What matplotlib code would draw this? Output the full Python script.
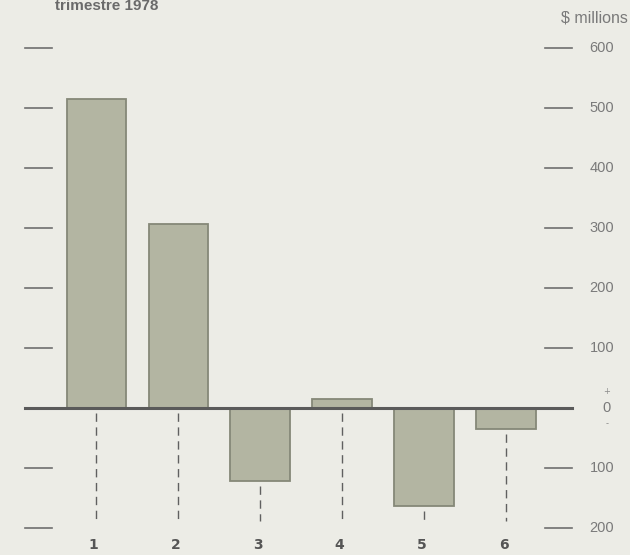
import matplotlib
matplotlib.use('Agg')
import matplotlib.pyplot as plt

# data, $ millions
categories = ['1', '2', '3', '4', '5', '6']
values = [515, 307, -122, 15, -163, -35]
tick_values = [600, 500, 400, 300, 200, 100, 0, -100, -200]
tick_labels = ['600', '500', '400', '300', '200', '100', '0', '100', '200']

bg = '#ecece6'
bar_fill = '#b3b5a2'
bar_edge = '#858878'
ink = '#6e6e6e'

fig = plt.figure(figsize=(6.3, 5.55), dpi=100, facecolor=bg)
ax = fig.add_axes([0, 0, 1, 1], facecolor=bg)
ax.set_xlim(-0.171, 7.512)
ax.set_ylim(-245, 680)
ax.axis('off')

x = list(range(1, len(values) + 1))
ax.bar(x, values, width=0.72, color=bar_fill, edgecolor=bar_edge,
       linewidth=1.3, zorder=2)

# dashed drop lines under each bar
for xi, v in zip(x, values):
    top = min(v, 0)
    ax.plot([xi, xi], [top - 8, -188], color='#606060', lw=1.0,
            linestyle=(0, (6, 4)), zorder=1)
    ax.text(xi - 0.03, -228, categories[xi - 1], ha='center', va='center',
            fontsize=10, fontweight='bold', color='#555555')

# zero line
ax.plot([0.134, 6.805], [0, 0], color='#5a5a5a', lw=2.2, zorder=3)

# tick marks on both sides, labels on the right
for tv, tl in zip(tick_values, tick_labels):
    if tv == 0:
        ax.text(7.23, tv, tl, ha='center', va='center', fontsize=10.5,
                color='#7a7a7a', family='Liberation Sans')
        continue
    ax.plot([0.134, 0.463], [tv, tv], color=ink, lw=1.2)
    ax.plot([6.476, 6.805], [tv, tv], color=ink, lw=1.2)
    ax.text(7.02, tv, tl, ha='left', va='center', fontsize=10.5,
            color='#7a7a7a', family='Liberation Sans')

ax.text(7.23, 28, '+', ha='center', va='center', fontsize=6, color='#8a8a8a')
ax.text(7.23, -26, '-', ha='center', va='center', fontsize=6, color='#8a8a8a')

ax.text(7.48, 650, '$ millions', ha='right', va='center', fontsize=11.5,
        color='#7a7a7a', family='Liberation Sans')
ax.text(0.5, 670, 'trimestre 1978', ha='left', va='center', fontsize=11,
        fontweight='bold', color='#6a6a6a', family='Liberation Sans')

fig.savefig('out.png', dpi=100, facecolor=bg)
